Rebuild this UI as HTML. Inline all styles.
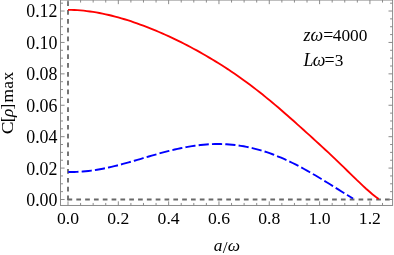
<!DOCTYPE html>
<html><head><meta charset="utf-8"><title>plot</title>
<style>
html,body{margin:0;padding:0;background:#fff;}
body{width:394px;height:255px;overflow:hidden;}
svg{display:block;will-change:transform;}
text{font-family:"Liberation Serif",serif;font-size:17.9px;fill:#000;}
.i{font-style:italic;}
</style></head><body>
<svg width="394" height="255" viewBox="0 0 394 255">
<rect width="394" height="255" fill="#fff"/>
<g stroke="#686868" stroke-width="1.8" fill="none">
<path d="M68,200.25 L68,0.05" stroke-dasharray="4.7 4.13"/>
<path d="M67.5,199.5 L392.6,199.5" stroke-dasharray="4.7 4.12"/>
</g>
<path d="M68.3,171.95 L71.2,171.99 L74.1,171.97 L76.9,171.88 L79.8,171.74 L82.7,171.54 L85.6,171.28 L88.4,170.97 L91.3,170.61 L94.2,170.20 L97.1,169.74 L99.9,169.24 L102.8,168.70 L105.7,168.12 L108.6,167.50 L111.4,166.85 L114.3,166.17 L117.2,165.46 L120.1,164.72 L122.9,163.95 L125.8,163.17 L128.7,162.37 L131.6,161.55 L134.4,160.72 L137.3,159.88 L140.2,159.04 L143.1,158.19 L145.9,157.34 L148.8,156.50 L151.7,155.66 L154.6,154.83 L157.4,154.01 L160.3,153.20 L163.2,152.42 L166.1,151.65 L169.0,150.91 L171.8,150.20 L174.7,149.51 L177.6,148.86 L180.5,148.24 L183.3,147.65 L186.2,147.10 L189.1,146.59 L192.0,146.12 L194.8,145.70 L197.7,145.32 L200.6,144.99 L203.5,144.70 L206.3,144.46 L209.2,144.28 L212.1,144.14 L215.0,144.06 L217.8,144.03 L220.7,144.06 L223.6,144.14 L226.5,144.28 L229.3,144.47 L232.2,144.72 L235.1,145.03 L238.0,145.40 L240.8,145.82 L243.7,146.30 L246.6,146.84 L249.5,147.44 L252.3,148.09 L255.2,148.81 L258.1,149.58 L261.0,150.40 L263.9,151.29 L266.7,152.22 L269.6,153.22 L272.5,154.26 L275.4,155.36 L278.2,156.52 L281.1,157.72 L284.0,158.97 L286.9,160.27 L289.7,161.62 L292.6,163.01 L295.5,164.45 L298.4,165.92 L301.2,167.44 L304.1,169.00 L307.0,170.59 L309.9,172.21 L312.7,173.87 L315.6,175.55 L318.5,177.26 L321.4,178.99 L324.2,180.74 L327.1,182.51 L330.0,184.29 L332.9,186.08 L335.7,187.88 L338.6,189.67 L341.5,191.47 L344.4,193.26 L347.2,195.04 L350.1,196.80 L353.0,198.54" fill="none" stroke="#0000ff" stroke-width="1.9" stroke-dasharray="10.2 3.15"/>
<path d="M68.0,9.87 L71.1,9.91 L74.3,10.01 L77.4,10.18 L80.6,10.41 L83.7,10.70 L86.8,11.05 L90.0,11.46 L93.1,11.92 L96.2,12.44 L99.4,13.01 L102.5,13.63 L105.7,14.29 L108.8,15.01 L111.9,15.77 L115.1,16.58 L118.2,17.43 L121.4,18.32 L124.5,19.26 L127.6,20.23 L130.8,21.24 L133.9,22.30 L137.0,23.39 L140.2,24.51 L143.3,25.67 L146.5,26.87 L149.6,28.10 L152.7,29.37 L155.9,30.67 L159.0,32.00 L162.2,33.36 L165.3,34.76 L168.4,36.18 L171.6,37.64 L174.7,39.13 L177.8,40.65 L181.0,42.20 L184.1,43.79 L187.3,45.40 L190.4,47.05 L193.5,48.72 L196.7,50.43 L199.8,52.17 L203.0,53.95 L206.1,55.75 L209.2,57.59 L212.4,59.46 L215.5,61.37 L218.6,63.31 L221.8,65.29 L224.9,67.30 L228.1,69.35 L231.2,71.44 L234.3,73.57 L237.5,75.74 L240.6,77.95 L243.7,80.20 L246.9,82.49 L250.0,84.83 L253.2,87.20 L256.3,89.62 L259.4,92.07 L262.6,94.56 L265.7,97.10 L268.9,99.66 L272.0,102.27 L275.1,104.91 L278.3,107.57 L281.4,110.27 L284.5,113.00 L287.7,115.75 L290.8,118.52 L294.0,121.30 L297.1,124.11 L300.2,126.92 L303.4,129.74 L306.5,132.57 L309.7,135.41 L312.8,138.25 L315.9,141.09 L319.1,143.95 L322.2,146.83 L325.3,149.73 L328.5,152.65 L331.6,155.60 L334.8,158.59 L337.9,161.60 L341.0,164.63 L344.2,167.68 L347.3,170.75 L350.5,173.82 L353.6,176.89 L356.7,179.94 L359.9,182.95 L363.0,185.91 L366.1,188.79 L369.3,191.56 L372.4,194.19 L375.6,196.65 L378.7,198.91" fill="none" stroke="#ff0000" stroke-width="1.85"/>
<g stroke="#858585" stroke-width="0.95" fill="none">
<rect x="60.5" y="0.05" width="332.1" height="205.39999999999998"/>
<line x1="68.00" y1="205.45" x2="68.00" y2="201.35"/>
<line x1="68.00" y1="0.05" x2="68.00" y2="4.1499999999999995"/>
<line x1="80.58" y1="205.45" x2="80.58" y2="202.95"/>
<line x1="80.58" y1="0.05" x2="80.58" y2="2.55"/>
<line x1="93.16" y1="205.45" x2="93.16" y2="202.95"/>
<line x1="93.16" y1="0.05" x2="93.16" y2="2.55"/>
<line x1="105.74" y1="205.45" x2="105.74" y2="202.95"/>
<line x1="105.74" y1="0.05" x2="105.74" y2="2.55"/>
<line x1="118.32" y1="205.45" x2="118.32" y2="201.35"/>
<line x1="118.32" y1="0.05" x2="118.32" y2="4.1499999999999995"/>
<line x1="130.90" y1="205.45" x2="130.90" y2="202.95"/>
<line x1="130.90" y1="0.05" x2="130.90" y2="2.55"/>
<line x1="143.48" y1="205.45" x2="143.48" y2="202.95"/>
<line x1="143.48" y1="0.05" x2="143.48" y2="2.55"/>
<line x1="156.06" y1="205.45" x2="156.06" y2="202.95"/>
<line x1="156.06" y1="0.05" x2="156.06" y2="2.55"/>
<line x1="168.64" y1="205.45" x2="168.64" y2="201.35"/>
<line x1="168.64" y1="0.05" x2="168.64" y2="4.1499999999999995"/>
<line x1="181.22" y1="205.45" x2="181.22" y2="202.95"/>
<line x1="181.22" y1="0.05" x2="181.22" y2="2.55"/>
<line x1="193.80" y1="205.45" x2="193.80" y2="202.95"/>
<line x1="193.80" y1="0.05" x2="193.80" y2="2.55"/>
<line x1="206.38" y1="205.45" x2="206.38" y2="202.95"/>
<line x1="206.38" y1="0.05" x2="206.38" y2="2.55"/>
<line x1="218.96" y1="205.45" x2="218.96" y2="201.35"/>
<line x1="218.96" y1="0.05" x2="218.96" y2="4.1499999999999995"/>
<line x1="231.54" y1="205.45" x2="231.54" y2="202.95"/>
<line x1="231.54" y1="0.05" x2="231.54" y2="2.55"/>
<line x1="244.12" y1="205.45" x2="244.12" y2="202.95"/>
<line x1="244.12" y1="0.05" x2="244.12" y2="2.55"/>
<line x1="256.70" y1="205.45" x2="256.70" y2="202.95"/>
<line x1="256.70" y1="0.05" x2="256.70" y2="2.55"/>
<line x1="269.28" y1="205.45" x2="269.28" y2="201.35"/>
<line x1="269.28" y1="0.05" x2="269.28" y2="4.1499999999999995"/>
<line x1="281.86" y1="205.45" x2="281.86" y2="202.95"/>
<line x1="281.86" y1="0.05" x2="281.86" y2="2.55"/>
<line x1="294.44" y1="205.45" x2="294.44" y2="202.95"/>
<line x1="294.44" y1="0.05" x2="294.44" y2="2.55"/>
<line x1="307.02" y1="205.45" x2="307.02" y2="202.95"/>
<line x1="307.02" y1="0.05" x2="307.02" y2="2.55"/>
<line x1="319.60" y1="205.45" x2="319.60" y2="201.35"/>
<line x1="319.60" y1="0.05" x2="319.60" y2="4.1499999999999995"/>
<line x1="332.18" y1="205.45" x2="332.18" y2="202.95"/>
<line x1="332.18" y1="0.05" x2="332.18" y2="2.55"/>
<line x1="344.76" y1="205.45" x2="344.76" y2="202.95"/>
<line x1="344.76" y1="0.05" x2="344.76" y2="2.55"/>
<line x1="357.34" y1="205.45" x2="357.34" y2="202.95"/>
<line x1="357.34" y1="0.05" x2="357.34" y2="2.55"/>
<line x1="369.92" y1="205.45" x2="369.92" y2="201.35"/>
<line x1="369.92" y1="0.05" x2="369.92" y2="4.1499999999999995"/>
<line x1="382.50" y1="205.45" x2="382.50" y2="202.95"/>
<line x1="382.50" y1="0.05" x2="382.50" y2="2.55"/>
<line x1="60.5" y1="199.50" x2="64.6" y2="199.50"/>
<line x1="392.6" y1="199.50" x2="388.5" y2="199.50"/>
<line x1="60.5" y1="191.65" x2="63.0" y2="191.65"/>
<line x1="392.6" y1="191.65" x2="390.1" y2="191.65"/>
<line x1="60.5" y1="183.79" x2="63.0" y2="183.79"/>
<line x1="392.6" y1="183.79" x2="390.1" y2="183.79"/>
<line x1="60.5" y1="175.94" x2="63.0" y2="175.94"/>
<line x1="392.6" y1="175.94" x2="390.1" y2="175.94"/>
<line x1="60.5" y1="168.09" x2="64.6" y2="168.09"/>
<line x1="392.6" y1="168.09" x2="388.5" y2="168.09"/>
<line x1="60.5" y1="160.24" x2="63.0" y2="160.24"/>
<line x1="392.6" y1="160.24" x2="390.1" y2="160.24"/>
<line x1="60.5" y1="152.38" x2="63.0" y2="152.38"/>
<line x1="392.6" y1="152.38" x2="390.1" y2="152.38"/>
<line x1="60.5" y1="144.53" x2="63.0" y2="144.53"/>
<line x1="392.6" y1="144.53" x2="390.1" y2="144.53"/>
<line x1="60.5" y1="136.68" x2="64.6" y2="136.68"/>
<line x1="392.6" y1="136.68" x2="388.5" y2="136.68"/>
<line x1="60.5" y1="128.82" x2="63.0" y2="128.82"/>
<line x1="392.6" y1="128.82" x2="390.1" y2="128.82"/>
<line x1="60.5" y1="120.97" x2="63.0" y2="120.97"/>
<line x1="392.6" y1="120.97" x2="390.1" y2="120.97"/>
<line x1="60.5" y1="113.12" x2="63.0" y2="113.12"/>
<line x1="392.6" y1="113.12" x2="390.1" y2="113.12"/>
<line x1="60.5" y1="105.26" x2="64.6" y2="105.26"/>
<line x1="392.6" y1="105.26" x2="388.5" y2="105.26"/>
<line x1="60.5" y1="97.41" x2="63.0" y2="97.41"/>
<line x1="392.6" y1="97.41" x2="390.1" y2="97.41"/>
<line x1="60.5" y1="89.56" x2="63.0" y2="89.56"/>
<line x1="392.6" y1="89.56" x2="390.1" y2="89.56"/>
<line x1="60.5" y1="81.71" x2="63.0" y2="81.71"/>
<line x1="392.6" y1="81.71" x2="390.1" y2="81.71"/>
<line x1="60.5" y1="73.85" x2="64.6" y2="73.85"/>
<line x1="392.6" y1="73.85" x2="388.5" y2="73.85"/>
<line x1="60.5" y1="66.00" x2="63.0" y2="66.00"/>
<line x1="392.6" y1="66.00" x2="390.1" y2="66.00"/>
<line x1="60.5" y1="58.15" x2="63.0" y2="58.15"/>
<line x1="392.6" y1="58.15" x2="390.1" y2="58.15"/>
<line x1="60.5" y1="50.29" x2="63.0" y2="50.29"/>
<line x1="392.6" y1="50.29" x2="390.1" y2="50.29"/>
<line x1="60.5" y1="42.44" x2="64.6" y2="42.44"/>
<line x1="392.6" y1="42.44" x2="388.5" y2="42.44"/>
<line x1="60.5" y1="34.59" x2="63.0" y2="34.59"/>
<line x1="392.6" y1="34.59" x2="390.1" y2="34.59"/>
<line x1="60.5" y1="26.73" x2="63.0" y2="26.73"/>
<line x1="392.6" y1="26.73" x2="390.1" y2="26.73"/>
<line x1="60.5" y1="18.88" x2="63.0" y2="18.88"/>
<line x1="392.6" y1="18.88" x2="390.1" y2="18.88"/>
<line x1="60.5" y1="11.03" x2="64.6" y2="11.03"/>
<line x1="392.6" y1="11.03" x2="388.5" y2="11.03"/>
<line x1="60.5" y1="3.18" x2="63.0" y2="3.18"/>
<line x1="392.6" y1="3.18" x2="390.1" y2="3.18"/>
</g>
<g>
<text x="68.0" y="224.4" text-anchor="middle" style="font-size:17.65px">0.0</text>
<text x="118.3" y="224.4" text-anchor="middle" style="font-size:17.65px">0.2</text>
<text x="168.6" y="224.4" text-anchor="middle" style="font-size:17.65px">0.4</text>
<text x="219.0" y="224.4" text-anchor="middle" style="font-size:17.65px">0.6</text>
<text x="269.3" y="224.4" text-anchor="middle" style="font-size:17.65px">0.8</text>
<text x="319.6" y="224.4" text-anchor="middle" style="font-size:17.65px">1.0</text>
<text x="369.9" y="224.4" text-anchor="middle" style="font-size:17.65px">1.2</text>
<text x="57.5" y="206.0" text-anchor="end">0.00</text>
<text x="57.5" y="174.5" text-anchor="end">0.02</text>
<text x="57.5" y="143.0" text-anchor="end">0.04</text>
<text x="57.5" y="111.5" text-anchor="end">0.06</text>
<text x="57.5" y="80.0" text-anchor="end">0.08</text>
<text x="57.5" y="48.5" text-anchor="end">0.10</text>
<text x="57.5" y="17.0" text-anchor="end">0.12</text>
</g>
<text x="226.8" y="250.6" text-anchor="middle" style="font-size:17.4px"><tspan class="i">a</tspan><tspan dy="2.3" dx="0.4">/</tspan><tspan class="i" dy="-2.3">ω</tspan></text>
<g transform="translate(12.5,103.4) rotate(-90)" style="font-size:17.4px">
<text transform="translate(-30.9,0) scale(1.1,0.96)" style="font-size:17.4px">C</text>
<text style="font-size:17.4px"><tspan x="-18.8">[</tspan><tspan class="i" x="-13.7">ρ</tspan><tspan x="-6.0">]</tspan><tspan x="0.9">m</tspan><tspan x="14.7">a</tspan><tspan x="22.8">x</tspan></text>
</g>
<text x="303.6" y="41.3"><tspan class="i">zω</tspan>=<tspan x="332.8" font-size="17.3">4000</tspan></text>
<text x="303.6" y="65.7"><tspan class="i">L</tspan><tspan class="i" x="312.8">ω</tspan><tspan x="324.5">=</tspan><tspan x="334.8" font-size="17.3">3</tspan></text>
</svg>
</body></html>
